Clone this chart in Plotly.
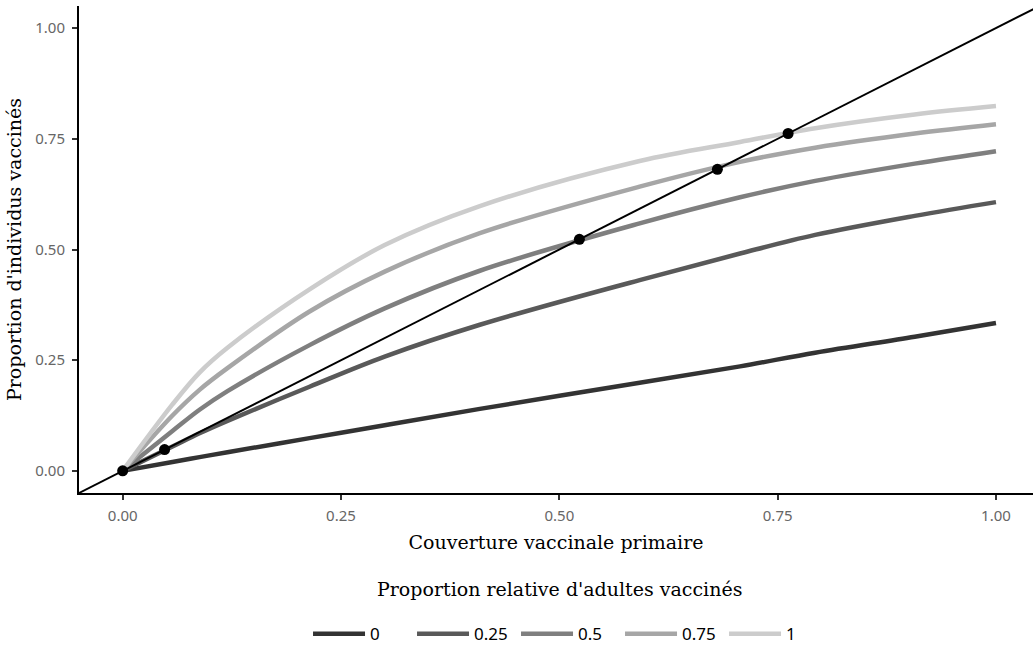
import plotly.graph_objects as go

# Data
coverage = [0, 0.057, 0.088, 0.12, 0.214, 0.30, 0.409, 0.592, 0.707, 0.793, 0.907, 1.0]
series_names = ["0", "0.25", "0.5", "0.75", "1"]
vacc_0 = [0, 0.020, 0.031, 0.042, 0.074, 0.103, 0.140, 0.199, 0.236, 0.267, 0.303, 0.334]
vacc_025 = [0, 0.055, 0.085, 0.113, 0.190, 0.258, 0.330, 0.431, 0.491, 0.533, 0.576, 0.607]
vacc_05 = [0, 0.090, 0.138, 0.180, 0.284, 0.367, 0.452, 0.559, 0.618, 0.655, 0.694, 0.722]
vacc_075 = [0, 0.125, 0.183, 0.232, 0.360, 0.450, 0.537, 0.642, 0.698, 0.730, 0.762, 0.783]
vacc_1 = [0, 0.150, 0.222, 0.278, 0.410, 0.510, 0.598, 0.700, 0.743, 0.774, 0.805, 0.824]
series_values = [vacc_0, vacc_025, vacc_05, vacc_075, vacc_1]
series_colors = ["#333333", "#595959", "#7f7f7f", "#a6a6a6", "#cccccc"]

diag_x = [-0.05, 1.05]
equil_x = [0, 0.048, 0.523, 0.681, 0.762]
equil_y = [0, 0.048, 0.523, 0.681, 0.762]

tick_vals = [0, 0.25, 0.5, 0.75, 1.0]
tick_text = ["0.00", "0.25", "0.50", "0.75", "1.00"]

fig = go.Figure()
for name, vals, col in zip(series_names, series_values, series_colors):
    fig.add_trace(go.Scatter(x=coverage, y=vals, mode="lines", name=name,
                             line=dict(color=col, width=4.5, shape="spline", smoothing=1.0)))

fig.add_trace(go.Scatter(x=diag_x, y=diag_x, mode="lines", showlegend=False,
                         line=dict(color="black", width=2)))
fig.add_trace(go.Scatter(x=equil_x, y=equil_y, mode="markers", showlegend=False,
                         marker=dict(color="black", size=11)))

axis_common = dict(
    showgrid=False, zeroline=False, showline=True, linecolor="black", linewidth=2,
    ticks="outside", ticklen=5, tickwidth=2, tickcolor="#333333",
    tickvals=tick_vals, ticktext=tick_text, automargin=False,
    tickfont=dict(family="Noto Sans", size=15, color="#666666"),
)

title_font = dict(family="DejaVu Serif", size=19, color="black")

fig.update_layout(
    width=1033, height=651,
    paper_bgcolor="white", plot_bgcolor="white",
    margin=dict(l=79, r=0, t=6, b=158, autoexpand=False),
    xaxis=dict(range=[-0.05, 1.0424], ticklabelstandoff=3,
               title=dict(text="Couverture vaccinale primaire", font=title_font, standoff=12),
               **axis_common),
    yaxis=dict(range=[-0.05, 1.05], ticklabelstandoff=4,
               title=dict(text="Proportion d'individus vaccinés", font=title_font, standoff=9),
               **axis_common),
    legend=dict(orientation="h", x=0.5126, xanchor="center", y=-0.29, yanchor="middle",
                font=dict(family="Noto Sans", size=17, color="black"),
                itemwidth=52, entrywidth=37),
    annotations=[dict(text="Proportion relative d'adultes vaccinés", xref="paper", yref="paper",
                      x=0.504, y=-0.197, xanchor="center", yanchor="middle", showarrow=False,
                      font=title_font)],
)

fig.write_html("out.html", config={"displayModeBar": False},
               post_script="document.body.style.margin='0';")
